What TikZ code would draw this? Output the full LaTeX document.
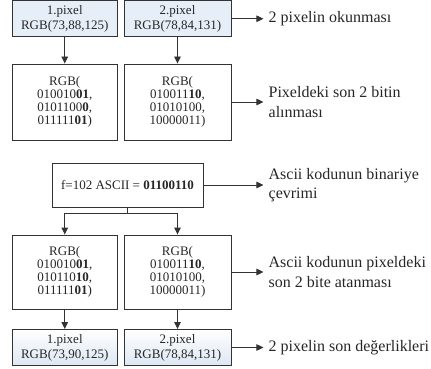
\documentclass[tikz,border=0pt]{standalone}
\usepackage{fontspec}
\setmainfont{Liberation Serif}
\usetikzlibrary{arrows.meta,calc}
\definecolor{linec}{HTML}{333333}
\definecolor{topfill}{HTML}{E6EEF8}
\definecolor{botfill}{HTML}{DDE7F3}
\begin{document}
\begin{tikzpicture}[x=1pt,y=-1pt,
  box/.style={draw=linec, line width=0.9pt, align=center, inner sep=0pt,
    font=\rmfamily\fontsize{13}{15}\selectfont, text=black!85},
  pixbox/.style={box, fill=topfill, minimum height=36pt},
  endbox/.style={box, top color=white, middle color=white, bottom color=botfill, minimum height=36pt},
  rgbbox/.style={box, font=\rmfamily\fontsize{13}{12.8}\selectfont},
  conn/.style={draw=linec, line width=0.9pt},
  arr/.style={conn, -{Triangle[length=7pt,width=6.5pt]}},
  lbl/.style={anchor=west, align=left, inner sep=0pt, xshift=5pt,
    font=\rmfamily\fontsize{16}{19.5}\selectfont, text=black!85}
]
\useasboundingbox (0,0) rectangle (431,369);

% row 1
\node[pixbox, minimum width=105.5pt] (p1) at (64.75,18.75) {1.pixel\\RGB(73,88,125)};
\node[pixbox, minimum width=107pt] (p2) at (177.5,18.75) {2.pixel\\RGB(78,84,131)};
% row 2
\node[rgbbox, minimum width=105.5pt, minimum height=76pt] (b1) at (64.75,102) {RGB(\\010010\textbf{01},\\0101100\textbf{0},\\011111\textbf{01})};
\node[rgbbox, minimum width=107pt, minimum height=76pt] (b2) at (177.5,102) {RGB(\\010011\textbf{10},\\01010100,\\10000011)};
% ascii
\node[box, minimum width=151pt, minimum height=44pt] (asc) at (127.5,185) {f=102 ASCII = \textbf{01100110}};
% row 3
\node[rgbbox, minimum width=105.5pt, minimum height=74pt] (c1) at (64.75,272) {RGB(\\010010\textbf{01},\\010110\textbf{10},\\011111\textbf{01})};
\node[rgbbox, minimum width=107pt, minimum height=74pt] (c2) at (177.5,272) {RGB(\\010011\textbf{10},\\01010100,\\10000011)};
% row 4
\node[endbox, minimum width=105.5pt] (e1) at (64.75,347.5) {1.pixel\\RGB(73,90,125)};
\node[endbox, minimum width=107pt] (e2) at (177.5,347.5) {2.pixel\\RGB(78,84,131)};

% vertical arrows
\draw[arr] (p1) -- (b1);
\draw[arr] (p2) -- (b2);
\coordinate (split) at ($(asc.south)+(0,5.5)$);
\draw[conn] (asc.south) -- (split);
\draw[arr] (split) -| (c1.north);
\draw[arr] (split) -| (c2.north);
\draw[arr] (c1) -- (e1);
\draw[arr] (c2) -- (e2);

% side labels
\coordinate (t1) at ($(p2.east)+(32,0)$);
\coordinate (t2) at ($(b2.east)+(32,0)$);
\coordinate (t3) at ($(asc.east)+(60,0)$);
\coordinate (t4) at ($(c2.east)+(32,0)$);
\coordinate (t5) at ($(e2.east)+(32,0)$);
\draw[arr] (p2.east) -- (t1);
\draw[arr] (b2.east) -- (t2);
\draw[arr] (asc.east) -- (t3);
\draw[arr] (c2.east) -- (t4);
\draw[arr] (e2.east) -- (t5);
\node[lbl] (l1) at (t1) {2 pixelin okunması};
\node[lbl] (l2) at (t2) {Pixeldeki son 2 bitin\\alınması};
\node[lbl] (l3) at (t3) {Ascii kodunun binariye\\çevrimi};
\node[lbl] (l4) at (t4) {Ascii kodunun pixeldeki\\son 2 bite atanması};
\node[lbl] (l5) at (t5) {2 pixelin son değerlikleri};
\end{tikzpicture}
\end{document}
